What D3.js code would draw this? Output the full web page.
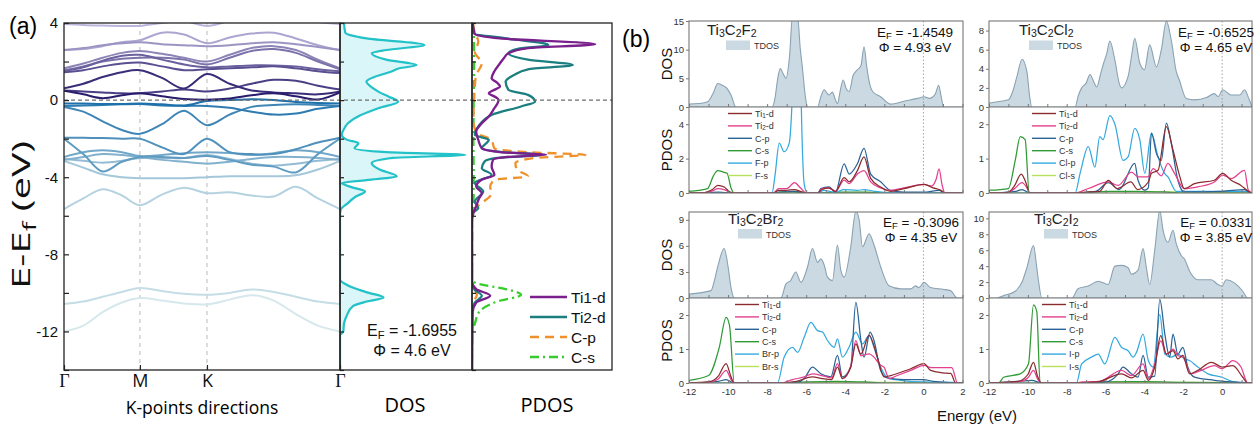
<!DOCTYPE html>
<html><head><meta charset="utf-8">
<script src="https://cdn.jsdelivr.net/npm/d3@7"></script>
<style>body{margin:0;background:#fff}svg{display:block}</style>
</head><body><svg id="c" width="1254" height="427"></svg>
<script>
// ================= DATA : panel (a) band structure =================
const kFrac = [0,0.07,0.14,0.21,0.275,0.355,0.435,0.518,0.6,0.68,0.76,0.84,0.92,1];
const kTicks = [0,0.275,0.518,1];
const kTickLabels = ['Γ','M','K','Γ'];
const conductionBands = [
  [0.48,0.3,0.1,0.25,0.36,0.2,0.06,0.02,0.08,0.25,0.35,0.2,0.03,0.4],
  [0.62,0.85,1.2,1.45,1.55,1.15,0.6,1.35,0.85,0.5,0.4,0.35,0.3,0.45],
  [0.5,0.45,0.4,0.35,0.36,0.45,0.55,0.45,0.6,0.85,1.05,1.0,0.75,0.55],
  [1.45,1.55,1.75,1.9,1.95,1.75,1.55,1.6,1.65,1.7,1.75,1.65,1.5,1.4],
  [1.5,1.7,2.05,2.3,2.35,2.1,1.85,1.7,1.75,1.8,1.8,1.75,1.6,1.5],
  [1.55,1.75,2.0,2.15,2.2,2.2,2.1,1.85,2.2,2.55,2.65,2.45,2.0,1.6],
  [1.65,1.9,2.2,2.45,2.55,2.4,2.2,2.0,2.35,2.7,2.8,2.6,2.1,1.65],
  [2.6,2.7,2.85,2.95,3.0,2.9,2.85,2.8,2.85,2.95,3.0,2.9,2.75,2.6],
  [2.6,2.65,2.8,3.0,3.1,3.5,3.4,2.95,3.25,3.45,3.5,3.2,2.85,2.6],
  [3.95,3.9,3.87,3.85,3.85,4.0,4.1,3.85,4.1,4.25,4.3,4.2,4.05,3.95]
];
const valenceBands = [
  [-0.17,-0.18,-0.2,-0.2,-0.18,-0.22,-0.28,-0.05,0.0,0.05,0.0,-0.1,-0.15,-0.17],
  [-0.3,-0.28,-0.25,-0.22,-0.2,-0.28,-0.3,-0.3,-0.4,-0.6,-0.75,-0.7,-0.45,-0.3],
  [-0.35,-0.6,-1.1,-1.55,-1.75,-1.25,-0.55,-1.3,-0.75,-0.35,-0.25,-0.22,-0.25,-0.3],
  [-1.95,-1.95,-1.97,-2.0,-2.0,-2.45,-2.8,-2.0,-2.7,-2.8,-2.8,-2.55,-2.2,-1.95],
  [-2.0,-2.8,-3.7,-3.2,-2.95,-2.95,-3.0,-2.9,-3.1,-3.35,-3.45,-3.75,-2.8,-2.0],
  [-2.95,-2.7,-2.6,-2.7,-2.9,-2.85,-2.75,-2.7,-2.75,-2.85,-2.75,-2.6,-2.7,-2.95],
  [-3.1,-2.95,-2.8,-2.85,-2.95,-3.1,-3.2,-3.3,-3.2,-3.05,-2.95,-2.95,-3.0,-3.1],
  [-3.05,-3.15,-3.25,-3.15,-3.0,-3.0,-3.0,-2.85,-3.05,-3.3,-3.4,-3.3,-3.15,-3.05],
  [-3.15,-3.5,-3.85,-4.0,-4.05,-4.05,-4.05,-4.0,-3.95,-3.95,-3.95,-3.9,-3.6,-3.15],
  [-5.65,-5.1,-4.62,-4.95,-5.45,-4.9,-4.55,-4.83,-4.78,-4.95,-5.0,-4.5,-5.1,-5.65],
  [-10.58,-10.45,-10.2,-9.95,-9.75,-9.9,-10.05,-10.1,-10.0,-9.82,-9.95,-10.2,-10.45,-10.58],
  [-12.0,-11.7,-11.0,-10.5,-10.27,-10.4,-10.55,-10.6,-10.35,-10.12,-10.4,-11.1,-11.7,-12.0]
];
const energyTicksA = [-14,-12,-10,-8,-6,-4,-2,0,2,4];
// ================= DATA : panel (a) DOS / PDOS =================
const dosEnergy = [4,3.5,3.2,2.86,2.6,2.43,2.1,1.82,1.65,1.48,1.2,0.96,0.62,0.4,0.18,-0.08,-0.42,-0.8,-1.2,-1.5,-1.8,-2.05,-2.24,-2.5,-2.7,-2.84,-3.0,-3.27,-3.6,-3.96,-4.15,-4.3,-4.5,-4.74,-5.0,-5.34,-5.69,-6,-9.3,-9.5,-9.76,-10.0,-10.24,-10.45,-10.68,-11.2,-11.6,-12.0,-12.2,-14];
const dosValue  = [0.3,0.4,2.0,6.4,3.5,2.4,3.5,5.8,4.5,3.9,2.6,2.0,2.5,3.0,3.7,4.4,2.9,1.5,0.6,0.3,0.13,0.5,1.4,1.1,3.5,9.5,4.0,2.4,3.0,4.3,2.0,0.13,0.8,1.9,1.2,0.6,0.05,0,0,0.3,1.1,2.2,3.3,2.0,1.0,0.5,0.3,0.25,0,0];
const pdosNamesA = ['Ti1-d','Ti2-d','C-p','C-s'];
const pdosTi1A = [[4,0.05],[3.44,0.2],[3.2,2.0],[2.9,8.8],[2.7,4.0],[2.43,2.6],[2.2,2.3],[1.91,2.0],[1.5,1.6],[1.13,1.4],[0.9,1.8],[0.7,2.0],[0.5,1.5],[0.36,1.2],[0.15,1.7],[0.01,1.9],[-0.2,1.8],[-0.42,1.6],[-0.85,1.2],[-1.2,0.7],[-1.63,0.3],[-2.06,0.45],[-2.5,0.7],[-2.7,2.0],[-2.84,5.3],[-2.95,2.5],[-3.1,1.5],[-3.44,1.4],[-3.88,1.6],[-4.13,0.7],[-4.48,0.3],[-4.83,0.7],[-5.1,0.5],[-5.5,0.3],[-5.86,0.1],[-6.2,0],[-9.4,0],[-9.8,0.3],[-10.15,1.3],[-10.5,0.3],[-11,0.05],[-14,0]];
const pdosTi2A = [[4,0.05],[3.46,0.1],[3.2,2.5],[2.86,5.45],[2.65,3.2],[2.43,2.6],[2.1,4.0],[1.82,7.2],[1.6,4.0],[1.3,3.0],[0.96,2.4],[0.53,2.6],[0.27,4.0],[-0.08,4.5],[-0.33,3.5],[-0.77,1.4],[-1.37,0.45],[-1.8,0.2],[-2.06,1.2],[-2.5,0.7],[-2.7,2.2],[-2.84,5.0],[-3.0,1.8],[-3.18,0.9],[-3.53,0.7],[-3.88,1.4],[-4.3,0.2],[-4.74,0.8],[-5.27,0.2],[-5.6,0.45],[-5.9,0],[-9.5,0],[-9.85,0.2],[-10.15,0.7],[-10.5,0.2],[-11,0],[-14,0]];
const pdosCpA = [[4,0.05],[3.5,0.2],[3.03,0.45],[2.5,0.2],[1.91,0.7],[1.3,0.3],[0.7,0.2],[0,0.15],[-1,0.1],[-1.7,0.3],[-2.06,1.4],[-2.5,1.6],[-2.7,4.0],[-2.84,8.1],[-3.0,4.5],[-3.27,3.1],[-3.6,3.2],[-3.96,4.0],[-4.13,1.6],[-4.5,1.3],[-4.83,1.4],[-5.34,0.7],[-5.7,0.1],[-6,0],[-9.6,0],[-10.1,0.35],[-10.6,0],[-14,0]];
const pdosCsA = [[4,0.05],[3.5,0.12],[2,0.15],[0,0.12],[-2,0.1],[-4,0.12],[-5.7,0.1],[-6,0],[-9.3,0],[-9.5,0.3],[-9.8,2.4],[-10.1,3.5],[-10.45,1.8],[-11,0.5],[-11.6,0.2],[-12,0],[-14,0]];
const efTextA = ['-1.6955','4.6'];

// ================= DATA : panel (b) =================
const energyTicksB = [-12,-11,-10,-9,-8,-7,-6,-5,-4,-3,-2,-1,0,1,2];
// Ti3C2F2
const f2Tdos = [[-12,0.5],[-11.5,0.6],[-11.05,0.9],[-10.75,2.5],[-10.53,4.1],[-10.3,3.8],[-10.1,3.4],[-9.85,2.1],[-9.6,0],[-7.75,0],[-7.6,1.5],[-7.47,4.7],[-7.33,6.7],[-7.18,5.8],[-7.04,5.0],[-6.85,9],[-6.7,16],[-6.45,16],[-6.3,10],[-6.2,7],[-6.05,2],[-5.94,0],[-5.42,0],[-5.25,1.8],[-5.08,3.0],[-4.93,2.4],[-4.83,2.1],[-4.66,2.6],[-4.5,1.2],[-4.4,0.6],[-4.25,3.0],[-4.11,4.7],[-3.95,3.2],[-3.8,2.7],[-3.6,5.5],[-3.38,6.5],[-3.2,7.2],[-3.04,10.5],[-2.9,7],[-2.75,4],[-2.6,2.7],[-2.19,1.8],[-1.68,0.5],[-1.0,1.0],[-0.3,1.5],[0.03,1.8],[0.3,1.5],[0.6,2.2],[0.78,3.8],[0.9,2.0],[1.03,0],[2,0]];
const f2Ti1d = [[-12,0],[-11.2,0.02],[-10.8,0.2],[-10.53,0.45],[-10.2,0.35],[-9.9,0.05],[-9.7,0],[-7.7,0],[-7.4,0.15],[-7.0,0.15],[-6.6,0.2],[-6.3,0.1],[-6.0,0],[-5.4,0],[-5.2,0.2],[-4.85,0.3],[-4.5,0.1],[-4.06,0.9],[-3.8,0.65],[-3.38,1.3],[-3.04,2.1],[-2.7,0.85],[-2.19,0.35],[-1.68,0.1],[-1.0,0.25],[0.03,0.5],[0.5,0.3],[0.9,0.15],[1.1,0],[2,0]];
const f2Ti2d = [[-12,0],[-11.2,0.02],[-10.8,0.12],[-10.53,0.25],[-10.2,0.2],[-9.9,0.03],[-9.7,0],[-7.7,0],[-7.4,0.25],[-7.0,0.25],[-6.6,0.6],[-6.3,0.3],[-6.0,0],[-5.4,0],[-5.2,0.25],[-4.85,0.3],[-4.5,0.1],[-4.06,0.75],[-3.8,0.55],[-3.38,1.1],[-3.04,1.3],[-2.7,0.65],[-2.19,0.3],[-1.68,0.15],[-1.0,0.3],[0.03,0.5],[0.4,0.4],[0.65,0.8],[0.8,1.4],[0.95,0.5],[1.1,0],[2,0]];
const f2Cp = [[-12,0],[-11,0.02],[-10.5,0.05],[-9.8,0],[-7.7,0],[-7.4,0.05],[-6.6,0.1],[-6,0],[-5.4,0],[-5.25,0.25],[-4.83,0.35],[-4.5,0.05],[-4.06,1.7],[-3.8,1.1],[-3.38,1.7],[-3.04,2.6],[-2.7,1.1],[-2.19,0.65],[-1.68,0.15],[-1,0.05],[0,0.05],[0.8,0.15],[1.1,0],[2,0]];
const f2Cs = [[-12,0.1],[-11.5,0.15],[-11.05,0.25],[-10.75,1.0],[-10.53,1.3],[-10.2,1.2],[-10.05,1.15],[-9.85,0.3],[-9.7,0],[-7.7,0],[-7.3,0.05],[-6.6,0.05],[-6,0],[-5.4,0],[-4.5,0.05],[-3.0,0.05],[-1.7,0],[2,0]];
const f2Xp = [[-12,0],[-7.75,0],[-7.6,1.0],[-7.38,2.9],[-7.13,2.4],[-6.87,2.9],[-6.7,6],[-6.55,12],[-6.35,12],[-6.25,5],[-6.1,0.5],[-5.95,0],[-5.4,0],[-5.1,0.15],[-4.5,0.05],[-4.06,0.2],[-3.38,0.15],[-3.04,0.2],[-2.5,0.1],[-1.7,0.02],[0,0.02],[1.1,0],[2,0]];
const f2Xs = [[-12,0],[-7.6,0],[-7.2,0.05],[-6.6,0.1],[-6.2,0.05],[-5.9,0],[-5,0.02],[-3,0.03],[0,0.02],[2,0]];
// Ti3C2Cl2
const cl2Tdos = [[-12,0.4],[-11.88,0.45],[-11,0.75],[-10.8,1.5],[-10.56,3.2],[-10.3,5.0],[-10.05,3.7],[-9.9,1.0],[-9.8,0],[-7.57,0],[-7.4,1.2],[-7.23,2.0],[-7.0,2.5],[-6.8,3.4],[-6.6,2.6],[-6.46,2.1],[-6.25,3.5],[-6.1,4.6],[-5.95,5.5],[-5.78,6.9],[-5.52,4.9],[-5.3,2.5],[-5.18,2.0],[-4.84,3.2],[-4.65,5.5],[-4.5,7.2],[-4.24,4.6],[-4.0,3.9],[-3.73,6.5],[-3.38,4.2],[-3.13,6.0],[-2.87,9.0],[-2.62,7.0],[-2.36,3.7],[-2.2,2.8],[-1.85,0.9],[-1.42,0.75],[-0.8,1.0],[-0.4,1.4],[-0.2,1.1],[0.03,1.8],[0.46,1.25],[0.9,1.25],[1.15,1.8],[1.4,0.75],[1.57,0],[2,0]];
const cl2Ti1d = [[-12,0],[-11,0.02],[-10.7,0.2],[-10.34,0.55],[-10.1,0.3],[-9.9,0],[-7.6,0],[-6.9,0.03],[-6.3,0.05],[-5.86,0.37],[-5.4,0.13],[-4.7,0.32],[-4.35,0.1],[-3.8,0.32],[-3.64,0.57],[-3.3,0.66],[-2.87,1.93],[-2.53,1.25],[-2.2,0.52],[-1.95,0.13],[-1.42,0.27],[-0.4,0.37],[0.03,0.57],[0.46,0.37],[0.97,0.22],[1.4,0.03],[1.6,0],[2,0]];
const cl2Ti2d = [[-12,0],[-11,0.02],[-10.7,0.12],[-10.3,0.3],[-10.05,0.15],[-9.9,0],[-7.6,0],[-6.89,0.13],[-5.86,0.32],[-5.35,0.22],[-4.67,0.61],[-4.33,0.47],[-3.82,0.47],[-3.55,0.71],[-3.13,0.5],[-2.79,0.86],[-2.45,0.57],[-1.95,0.13],[-1.25,0.18],[-0.4,0.32],[0.03,0.52],[0.46,0.42],[1.15,0.66],[1.35,0.08],[1.6,0],[2,0]];
const cl2Cp = [[-12,0],[-10.6,0.05],[-10.3,0.1],[-9.9,0],[-7.6,0],[-6.5,0.05],[-5.86,0.3],[-5.3,0.1],[-4.5,0.86],[-4.33,0.37],[-3.98,0.08],[-3.8,0.15],[-3.64,1.74],[-3.38,1.15],[-3.13,0.95],[-2.87,2.03],[-2.62,1.45],[-2.28,0.37],[-1.95,0.03],[0,0.05],[1.15,0.1],[1.5,0],[2,0]];
const cl2Cs = [[-12,0.08],[-11,0.13],[-10.65,0.95],[-10.39,1.64],[-10.14,1.55],[-9.93,0],[-7.6,0],[-5.8,0.05],[-4.5,0.05],[-3,0.03],[-2,0],[2,0]];
const cl2Xp = [[-12,0],[-7.57,0],[-7.3,0.6],[-6.89,1.35],[-6.55,0.75],[-6.3,1.64],[-6.13,1.55],[-5.78,2.25],[-5.52,2.0],[-5.1,0.95],[-4.84,1.05],[-4.5,1.88],[-4.24,1.55],[-3.98,0.57],[-3.64,1.74],[-3.3,1.05],[-2.96,0.57],[-2.79,0.47],[-2.36,0.05],[-1.5,0.05],[0,0.05],[1.2,0.05],[1.5,0],[2,0]];
const cl2Xs = [[-12,0],[-10.5,0.02],[-9.9,0],[-7.5,0],[-6.5,0.03],[-5,0.03],[-3,0.03],[0,0.02],[2,0]];
// Ti3C2Br2
const br2Tdos = [[-12,0.45],[-10.87,0.85],[-10.7,2.0],[-10.53,3.6],[-10.2,5.7],[-10.0,3.6],[-9.85,1.2],[-9.68,0],[-7.3,0],[-7.04,1.6],[-6.8,2.0],[-6.53,3.0],[-6.27,1.8],[-5.93,3.6],[-5.68,5.7],[-5.42,4.1],[-5.25,4.5],[-5.08,3.8],[-4.91,2.4],[-4.66,2.0],[-4.4,6.1],[-4.23,3.2],[-4.06,2.4],[-3.72,5.9],[-3.46,10],[-3.29,9],[-3.12,5.9],[-2.78,7.4],[-2.53,6.1],[-2.19,3.6],[-1.76,1.4],[-1.17,1.05],[-0.65,1.05],[-0.4,1.4],[-0.23,1.2],[0.03,1.8],[0.37,1.2],[1.0,1.0],[1.39,0.85],[1.73,0],[2,0]];
const br2Ti1d = [[-12,0],[-11,0.03],[-10.5,0.2],[-10.1,0.57],[-9.85,0.18],[-9.68,0],[-7.3,0],[-6.5,0.05],[-5.68,0.18],[-5.17,0.13],[-4.7,0.1],[-4.4,0.47],[-4.15,0.13],[-3.72,0.47],[-3.46,1.15],[-3.2,0.85],[-2.78,1.4],[-2.36,0.76],[-2.02,0.18],[-1.68,0.22],[-0.65,0.42],[0.03,0.57],[0.37,0.37],[1.0,0.3],[1.4,0.28],[1.65,0],[2,0]];
const br2Ti2d = [[-12,0],[-11,0.02],[-10.5,0.12],[-10.1,0.37],[-9.85,0.1],[-9.68,0],[-7.3,0],[-6.7,0.1],[-6.1,0.18],[-5.68,0.27],[-5.08,0.2],[-4.7,0.15],[-4.4,0.57],[-4.15,0.13],[-3.72,0.5],[-3.46,1.25],[-3.2,0.8],[-2.78,0.86],[-2.53,0.76],[-2.19,0.52],[-2.02,0.47],[-1.76,0.13],[-1.34,0.22],[-0.65,0.37],[0.03,0.52],[0.4,0.45],[1.0,0.45],[1.45,0.45],[1.75,0],[2,0]];
const br2Cp = [[-12,0],[-10.5,0.05],[-10.1,0.1],[-9.7,0],[-7.3,0],[-6.4,0.03],[-6.1,0.13],[-5.68,0.47],[-5.25,0.27],[-4.74,0.18],[-4.4,0.81],[-4.15,0.18],[-3.72,0.47],[-3.46,2.37],[-3.2,1.25],[-3.04,0.76],[-2.73,1.5],[-2.53,1.25],[-2.19,0.37],[-1.85,0.15],[-1,0.1],[0,0.1],[0.5,0.05],[2,0]];
const br2Cs = [[-12,0.08],[-11,0.22],[-10.45,1.05],[-10.1,1.93],[-9.93,1.7],[-9.68,0],[-7.3,0],[-6,0.03],[-4.5,0.05],[-3,0.03],[-2,0],[2,0]];
const br2Xp = [[-12,0],[-7.47,0],[-7.13,0.76],[-6.7,1.05],[-6.44,0.9],[-6.1,1.35],[-5.76,1.78],[-5.42,1.54],[-5.17,1.5],[-4.91,1.25],[-4.57,1.05],[-4.4,1.3],[-4.15,0.76],[-3.81,1.05],[-3.46,1.5],[-3.12,1.15],[-2.78,1.4],[-2.53,1.05],[-2.19,0.47],[-1.76,0.13],[-1.17,0.08],[0,0.03],[1.5,0.02],[2,0]];
const br2Xs = [[-12,0],[-10.5,0.02],[-9.7,0],[-7.3,0],[-6,0.02],[-3,0.02],[0,0.02],[2,0]];
// Ti3C2I2
const i2Tdos = [[-12,0],[-11.6,0],[-11.25,0.3],[-10.65,0.85],[-10.3,2.0],[-10.05,3.8],[-9.71,6.6],[-9.55,4.0],[-9.45,2.1],[-9.28,0],[-7.74,0],[-7.4,1.2],[-6.9,1.5],[-6.38,2.1],[-5.87,1.7],[-5.52,4.0],[-5.18,4.1],[-4.84,3.8],[-4.67,3.0],[-4.33,3.5],[-4.07,6.2],[-3.9,3.8],[-3.73,1.7],[-3.47,6.0],[-3.21,11],[-3.04,8.5],[-2.79,7.0],[-2.53,8.5],[-2.36,6.8],[-2.1,5.3],[-1.94,4.9],[-1.68,3.4],[-1.25,2.3],[-0.56,2.3],[-0.22,1.7],[0.0,1.5],[0.2,2.3],[0.63,1.9],[1.06,0.85],[1.32,0],[2,0]];
const i2Ti1d = [[-12,0],[-10.5,0.05],[-10.0,0.25],[-9.71,0.61],[-9.5,0.2],[-9.3,0],[-7.5,0],[-6.4,0.03],[-5.18,0.27],[-4.67,0.15],[-4.07,0.37],[-3.8,0.08],[-3.47,0.47],[-3.16,1.39],[-2.87,0.85],[-2.53,0.95],[-2.28,0.71],[-2.02,0.81],[-1.68,0.27],[-1.25,0.37],[-0.56,0.61],[0,0.47],[0.55,0.51],[1.06,0.17],[1.32,0],[2,0]];
const i2Ti2d = [[-12,0],[-10.5,0.03],[-10.0,0.15],[-9.71,0.37],[-9.5,0.12],[-9.3,0],[-7.5,0],[-7.2,0.03],[-6.3,0.05],[-5.18,0.37],[-4.67,0.22],[-4.07,0.56],[-3.8,0.12],[-3.47,0.56],[-3.16,1.24],[-2.87,0.85],[-2.53,1.0],[-2.28,0.81],[-2.02,0.76],[-1.6,0.27],[-1.08,0.37],[-0.4,0.51],[0,0.42],[0.55,0.66],[0.97,0.47],[1.32,0],[2,0]];
const i2Cp = [[-12,0],[-10.5,0.05],[-9.8,0.08],[-9.3,0],[-7.5,0],[-6,0.03],[-5.35,0.27],[-5.1,0.47],[-4.67,0.27],[-4.33,0.17],[-4.07,0.81],[-3.8,0.17],[-3.47,0.2],[-3.21,2.46],[-2.95,1.44],[-2.7,0.76],[-2.53,1.44],[-2.28,0.85],[-2.02,1.05],[-1.77,0.47],[-1.42,0.17],[-0.4,0.08],[0.5,0.03],[2,0]];
const i2Cs = [[-12,0],[-11.5,0],[-11.25,0.17],[-10.4,0.27],[-9.97,0.56],[-9.71,2.3],[-9.54,2.1],[-9.37,0],[-7.5,0],[-6,0.03],[-4,0.04],[-2,0.02],[2,0]];
const i2Xp = [[-12,0],[-7.5,0],[-7.23,0.56],[-6.72,0.76],[-6.38,0.85],[-6.04,0.56],[-5.52,1.34],[-5.18,1.05],[-4.84,0.95],[-4.58,0.76],[-4.41,0.9],[-4.07,1.44],[-3.8,0.66],[-3.55,0.47],[-3.21,2.02],[-2.95,0.85],[-2.62,0.76],[-2.28,0.85],[-1.94,0.71],[-1.68,0.66],[-1.25,0.47],[-0.73,0.27],[0,0.17],[0.5,0.05],[1.3,0],[2,0]];
const i2Xs = [[-12,0],[-10,0.02],[-9.3,0],[-7.5,0],[-6,0.02],[-3,0.02],[0,0.02],[2,0]];

const panelTitles = [['Ti','_3','C','_2','F','_2'],['Ti','_3','C','_2','Cl','_2'],['Ti','_3','C','_2','Br','_2'],['Ti','_3','C','_2','I','_2']];
const panelX = ['F','Cl','Br','I'];
const panelEF = ['-1.4549','-0.6525','-0.3096','0.0331'];
const panelPhi = ['4.93','4.65','4.35','3.85'];
const panelDosTicks = [[0,5,10,15],[0,2,4,6,8],[0,3,6,9],[0,2,4,6,8,10]];
const panelDosMax = [15,9,9.9,10.8];
const panelPdosTicks = [[0,2,4],[0,1,2],[0,1,2],[0,1,2]];
const panelPdosMax = [5,2.5,2.5,2.5];

// ================= DRAWING =================
const svg = d3.select('#c');
const FA = '"Open Sans","Liberation Sans",Arial,sans-serif';
const FB = '"Liberation Sans",Arial,sans-serif';
const defs = svg.append('defs');
function clip(id,x,y,w,h){defs.append('clipPath').attr('id',id).append('rect').attr('x',x).attr('y',y).attr('width',w).attr('height',h);return `url(#${id})`;}
function subText(g,x,y,parts,size,anchor,dyf){
  const t=g.append('text').attr('x',x).attr('y',y).attr('font-size',size).attr('text-anchor',anchor||'start');
  let down=false;const dy=size*(dyf||0.2);
  parts.forEach(p=>{const sub=p[0]==='_';const s=sub?p.slice(1):p;const ts=t.append('tspan').text(s);
    if(sub){ts.attr('font-size',size*0.7);if(!down){ts.attr('dy',dy);down=true;}}
    else if(down){ts.attr('dy',-dy);down=false;}});
  return t;
}

// ---------- panel (a) ----------
const yA = d3.scaleLinear().domain([-14,4]).range([370,23]);
const xK = d3.scaleLinear().domain([0,1]).range([64,340]);
const xD = d3.scaleLinear().domain([0,10]).range([340,472]);
const xP = d3.scaleLinear().domain([0,10]).range([472,612]);
const gA = svg.append('g');
gA.selectAll('line.kv').data(kTicks.slice(1,3)).join('line')
  .attr('x1',d=>xK(d)).attr('x2',d=>xK(d)).attr('y1',yA(4)).attr('y2',yA(-14))
  .attr('stroke','#b8b8b8').attr('stroke-dasharray','4,4').attr('stroke-width',1);
const bandLine = d3.line().x((d,i)=>xK(kFrac[i])).y(d=>yA(d)).curve(d3.curveCatmullRom.alpha(0.5));
const gBands = gA.append('g').attr('clip-path',clip('cband',64,23,276,347)).attr('fill','none').attr('stroke-width',2);
const cCol = d3.scaleLinear().domain([0,conductionBands.length-1]).range(['#2a1c6c','#bdb6dc']);
const vCol = d3.scaleLinear().domain([0,valenceBands.length-1]).range(['#1d70aa','#d6e8ec']);
valenceBands.map((b,i)=>({b,i})).reverse().forEach(o=>gBands.append('path').datum(o.b).attr('d',bandLine).attr('stroke',vCol(o.i)));
conductionBands.map((b,i)=>({b,i})).reverse().forEach(o=>gBands.append('path').datum(o.b).attr('d',bandLine).attr('stroke',cCol(o.i)));

// DOS
const dosPts = dosEnergy.map((e,i)=>[e,dosValue[i]]);
const gDos = gA.append('g').attr('clip-path',clip('cdos',340,23,132,347));
gDos.append('path').datum(dosPts).attr('d',d3.area().y(d=>yA(d[0])).x0(xD(0)).x1(d=>xD(d[1])).curve(d3.curveMonotoneY)).attr('fill','#dbf6f8');
gDos.append('path').datum(dosPts).attr('d',d3.line().y(d=>yA(d[0])).x(d=>xD(d[1])).curve(d3.curveMonotoneY)).attr('fill','none').attr('stroke','#22c2c8').attr('stroke-width',2.2);

// PDOS (a)
const pdosA = [pdosTi1A,pdosTi2A,pdosCpA,pdosCsA];
const pStyleA = [{c:'#7a1f8c',d:null},{c:'#1b7f80',d:null},{c:'#f0902a',d:'9,6'},{c:'#35cc2c',d:'9,4,2,4'}];
const gPd = gA.append('g').attr('clip-path',clip('cpd',472,23,140,347));
const pLine = d3.line().y(d=>yA(d[0])).x(d=>xP(d[1])).curve(d3.curveMonotoneY);
[3,2,1,0].forEach(k=>gPd.append('path').datum(pdosA[k]).attr('d',pLine).attr('fill','none')
  .attr('stroke',pStyleA[k].c).attr('stroke-width',2.3).attr('stroke-dasharray',pStyleA[k].d));

// zero dashed line
gA.append('line').attr('x1',64).attr('x2',612).attr('y1',yA(0)).attr('y2',yA(0))
  .attr('stroke','#6e6e6e').attr('stroke-dasharray','4,3').attr('stroke-width',1.3);
// frames
[[64,340],[340,472],[472,612]].forEach(r=>gA.append('rect').attr('x',r[0]).attr('y',23).attr('width',r[1]-r[0]).attr('height',347)
  .attr('fill','none').attr('stroke','#222').attr('stroke-width',1.3));
// axes
const axL = gA.append('g').attr('transform','translate(64,0)')
  .call(d3.axisLeft(yA).tickValues(energyTicksA).tickSizeInner(-5).tickSizeOuter(0).tickPadding(6).tickFormat(d=>d%4===0?String(d):''));
[340,472].forEach(x0=>gA.append('g').attr('transform',`translate(${x0},0)`)
  .call(d3.axisLeft(yA).tickValues(energyTicksA).tickSizeInner(-4).tickSizeOuter(0).tickFormat('')));
const axB = gA.append('g').attr('transform','translate(0,370)')
  .call(d3.axisBottom(xK).tickValues(kTicks).tickSizeInner(-5).tickSizeOuter(0).tickPadding(4).tickFormat((d,i)=>kTickLabels[i]));
gA.selectAll('.domain').remove();
gA.selectAll('.tick line').attr('stroke','#222').attr('stroke-width',1.2);
axL.selectAll('text').attr('font-size',15).attr('font-family',FB).attr('fill','#111');
axB.selectAll('text').attr('font-size',18).attr('fill','#111')
  .attr('font-family',(d,i)=>kTickLabels[i]==='Γ'?'"Liberation Serif","DejaVu Serif",serif':FA);

// texts (a)
svg.append('text').attr('x',9).attr('y',34).attr('font-size',23).attr('font-family',FB).text('(a)');
const gy = svg.append('g').attr('transform','translate(30,215) rotate(-90)').attr('font-family',FA).attr('fill','#111');
subText(gy,0,0,['E-E','_f',' (eV)'],25,'middle',0.22).attr('textLength',148).attr('lengthAdjust','spacingAndGlyphs');
svg.append('text').attr('x',202).attr('y',414).attr('text-anchor','middle').attr('font-size',17.5).attr('font-family',FA).text('K-points directions');
svg.append('text').attr('x',405).attr('y',412).attr('text-anchor','middle').attr('font-size',20).attr('font-family',FA).text('DOS');
svg.append('text').attr('x',547).attr('y',412).attr('text-anchor','middle').attr('font-size',20).attr('font-family',FA).text('PDOS');
const gEF = svg.append('g').attr('font-family',FB).attr('fill','#111');
subText(gEF,412,336,['E','_F',' = '+efTextA[0]],16,'middle');
gEF.append('text').attr('x',412).attr('y',356).attr('text-anchor','middle').attr('font-size',16).text('Φ = '+efTextA[1]+' eV');
// legend (a)
const gLa = svg.append('g').attr('font-family',FB);
pdosNamesA.forEach((n,k)=>{const y=297+k*20;
  gLa.append('line').attr('x1',530).attr('x2',567).attr('y1',y).attr('y2',y).attr('stroke',pStyleA[k].c).attr('stroke-width',2.5).attr('stroke-dasharray',pStyleA[k].d);
  gLa.append('text').attr('x',571).attr('y',y+5.5).attr('font-size',15.5).attr('fill','#111').text(n);});

// ---------- panel (b) ----------
const pdColors = ['#8b2b2e','#e43f8e','#2c6396','#2f9a36','#35aadf','#b9e05c'];
const colsB = [{x0:689,x1:963,r:[689,962.5]},{x0:989,x1:1252,r:[989,1261]}];
const rowsB = [{top:21,mid:107,bot:193},{top:212,mid:298,bot:383}];
const titleDx=[18,30,39,45], boxDx=[37,40,49,55], legDx=[39,43,46,53], efCx=[915,1216,921,1216];
const panelData = [
  [f2Tdos,[f2Ti1d,f2Ti2d,f2Cp,f2Cs,f2Xp,f2Xs]],
  [cl2Tdos,[cl2Ti1d,cl2Ti2d,cl2Cp,cl2Cs,cl2Xp,cl2Xs]],
  [br2Tdos,[br2Ti1d,br2Ti2d,br2Cp,br2Cs,br2Xp,br2Xs]],
  [i2Tdos,[i2Ti1d,i2Ti2d,i2Cp,i2Cs,i2Xp,i2Xs]]
];
panelData.forEach((pd,i)=>{
  const C=colsB[i%2], R=rowsB[Math.floor(i/2)], w=C.x1-C.x0, top=i<2;
  const x=d3.scaleLinear().domain([-12,2]).range(C.r);
  const yD=d3.scaleLinear().domain([0,panelDosMax[i]]).range([R.mid,R.top]);
  const yP=d3.scaleLinear().domain([0,panelPdosMax[i]]).range([R.bot,R.mid]);
  const g=svg.append('g').attr('font-family',FB);
  g.append('path').datum(pd[0]).attr('clip-path',clip('cd'+i,C.x0,R.top,w,R.mid-R.top))
    .attr('d',d3.area().x(d=>x(d[0])).y0(yD(0)).y1(d=>yD(d[1])).curve(d3.curveMonotoneX))
    .attr('fill','#cbd9e2').attr('stroke','#8aa2b2').attr('stroke-width',1.1);
  const gp=g.append('g').attr('clip-path',clip('cp'+i,C.x0,R.mid,w,R.bot-R.mid)).attr('fill','none');
  const ln=d3.line().x(d=>x(d[0])).y(d=>yP(d[1])).curve(d3.curveMonotoneX);
  [5,3,4,2,1,0].forEach(k=>gp.append('path').datum(pd[1][k]).attr('d',ln).attr('stroke',pdColors[k]).attr('stroke-width',1.25));
  g.append('line').attr('x1',x(0)).attr('x2',x(0)).attr('y1',R.top).attr('y2',R.bot)
    .attr('stroke','#9c9c9c').attr('stroke-dasharray','1.5,2').attr('stroke-width',0.9);
  g.append('rect').attr('x',C.x0).attr('y',R.top).attr('width',w).attr('height',R.bot-R.top).attr('fill','none').attr('stroke','#777').attr('stroke-width',1.1);
  g.append('line').attr('x1',C.x0).attr('x2',C.x1).attr('y1',R.mid).attr('y2',R.mid).attr('stroke','#777').attr('stroke-width',1.1);
  const tv = energyTicksB.filter(v=>x(v)<=C.x1+0.5);
  const axs=[];
  axs.push(g.append('g').attr('transform',`translate(${C.x0},0)`).call(d3.axisLeft(yD).tickValues(panelDosTicks[i]).tickSize(3).tickPadding(2).tickFormat(d=>String(d))));
  axs.push(g.append('g').attr('transform',`translate(${C.x0},0)`).call(d3.axisLeft(yP).tickValues(panelPdosTicks[i]).tickSize(3).tickPadding(2).tickFormat(d=>String(d))));
  axs.push(g.append('g').attr('transform',`translate(0,${R.bot})`).call(d3.axisBottom(x).tickValues(tv).tickSizeInner(-3).tickSizeOuter(0).tickPadding(5)
    .tickFormat(d=>(!top && d%2===0)?String(d):'')));
  axs.push(g.append('g').attr('transform',`translate(0,${R.mid})`).call(d3.axisBottom(x).tickValues(tv).tickSizeInner(-3).tickSizeOuter(0).tickFormat('')));
  axs.forEach(a=>{a.select('.domain').remove();a.selectAll('.tick line').attr('stroke','#777');
    a.selectAll('text').attr('font-size',9.5).attr('font-family',FB).attr('fill','#333');});
  // title
  subText(g,C.x0+titleDx[i],R.top+(top?14:11.5),panelTitles[i],15,'start',0.16).attr('fill','#222');
  // TDOS legend box
  const by = R.top + (top?19.5:17);
  g.append('rect').attr('x',C.x0+boxDx[i]).attr('y',by).attr('width',24).attr('height',9.5).attr('fill','#cbd9e2');
  g.append('text').attr('x',C.x0+boxDx[i]+28).attr('y',by+8.8).attr('font-size',9).attr('fill','#333').text('TDOS');
  // EF / Phi
  const b1 = top?37:227, b2 = top?51.5:241.5;
  subText(g,efCx[i],b1,['E','_F',' = '+panelEF[i]],13.5,'middle',0.18).attr('fill','#111');
  g.append('text').attr('x',efCx[i]).attr('y',b2).attr('text-anchor','middle').attr('font-size',13.5).attr('fill','#111').text('Φ = '+panelPhi[i]+' eV');
  // PDOS legend
  const names=[['Ti','_1','-d'],['Ti','_2','-d'],['C-p'],['C-s'],[panelX[i]+'-p'],[panelX[i]+'-s']];
  names.forEach((n,k)=>{const y=R.mid+6.5+k*12.4;
    g.append('line').attr('x1',C.x0+legDx[i]).attr('x2',C.x0+legDx[i]+24).attr('y1',y).attr('y2',y).attr('stroke',pdColors[k]).attr('stroke-width',1.4);
    subText(g,C.x0+legDx[i]+27,y+3.2,n,9,'start',0.12).attr('fill','#333');});
  // y titles on left column
  if(i%2===0){
    g.append('text').attr('transform',`translate(672,${(R.top+R.mid)/2}) rotate(-90)`).attr('text-anchor','middle').attr('font-size',15).attr('fill','#111').text('DOS');
    g.append('text').attr('transform',`translate(672,${(R.mid+R.bot)/2}) rotate(-90)`).attr('text-anchor','middle').attr('font-size',15).attr('fill','#111').text('PDOS');
  }
});
svg.append('text').attr('x',622).attr('y',47).attr('font-size',23).attr('font-family',FB).text('(b)');
svg.append('text').attr('x',977).attr('y',421).attr('text-anchor','middle').attr('font-size',15).attr('font-family',FB).attr('fill','#111').text('Energy (eV)');
</script></body></html>
